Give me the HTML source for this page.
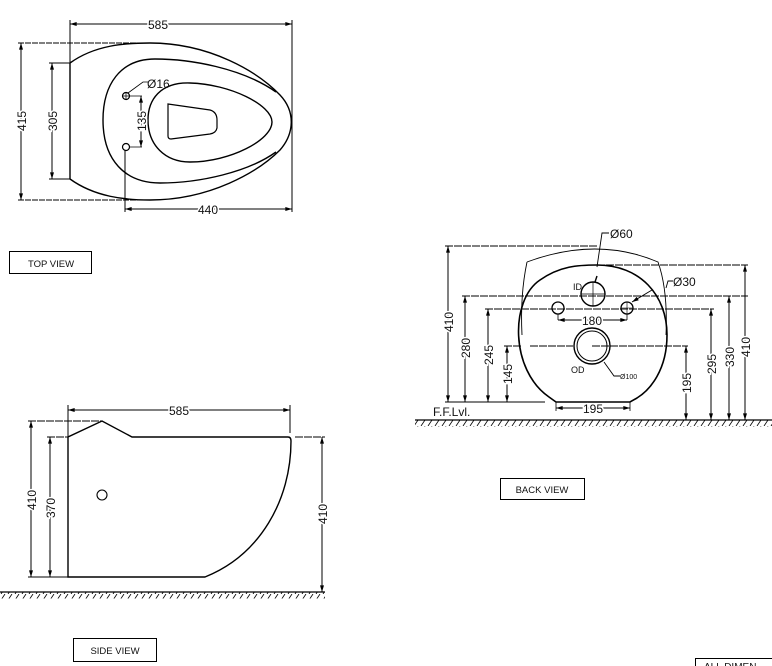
<!DOCTYPE html>
<html><head><meta charset="utf-8"><style>
html,body{margin:0;padding:0;background:#fff;}
svg{display:block;}
text{font-family:"Liberation Sans",Arial,sans-serif;fill:#111;}
</style></head><body>
<svg width="772" height="666" viewBox="0 0 772 666" xmlns="http://www.w3.org/2000/svg">
<defs>
<marker id="a" viewBox="0 0 10 6" refX="10" refY="3" markerWidth="7" markerHeight="4" orient="auto-start-reverse" markerUnits="userSpaceOnUse"><path d="M0,0L10,3L0,6z" fill="#000"/></marker>
<pattern id="h" width="7" height="6" patternUnits="userSpaceOnUse"><line x1="1" y1="6" x2="5" y2="0" stroke="#000" stroke-width="0.8"/></pattern>
</defs>
<g fill="none" stroke="#000" stroke-width="1">
<!-- TOP VIEW -->
<line x1="70" y1="20" x2="70" y2="63"/><line x1="292" y1="20" x2="292" y2="212"/>
<line x1="70" y1="24" x2="292" y2="24" marker-start="url(#a)" marker-end="url(#a)"/>
<line x1="18" y1="43" x2="150" y2="43" stroke-dasharray="6,1"/>
<line x1="18" y1="200" x2="150" y2="200" stroke-dasharray="6,1"/>
<line x1="21" y1="43" x2="21" y2="200" marker-start="url(#a)" marker-end="url(#a)"/>
<line x1="49" y1="63" x2="70" y2="63"/><line x1="49" y1="179" x2="70" y2="179"/>
<line x1="52" y1="63" x2="52" y2="179" marker-start="url(#a)" marker-end="url(#a)"/>
<line x1="125" y1="150" x2="125" y2="212"/>
<line x1="125" y1="209" x2="292" y2="209" marker-start="url(#a)" marker-end="url(#a)"/>
<path stroke-width="1.4" d="M70,63 C95,45 125,43 150,43 C210,43 258,72 280,95 C296,112 294,134 280,150 C258,172 210,200 150,200 C125,200 95,197 70,179 Z"/>
<path stroke-width="1.4" d="M276,92 C242,68 190,59 155,59 C120,59 103,85 103,120 C103,160 125,183 160,183 C200,183 248,172 276,152"/>
<path stroke-width="1.4" d="M272,122 C272,105 230,84 190,83 C160,82 148,100 148,120 C148,145 165,162 190,162 C230,162 272,140 272,122Z"/>
<path stroke-width="1.2" d="M168,104 L210,110 Q217,112 217,120 L217,128 Q216,133 210,134 L171,139 Q168,139 168,136 Z"/>
<circle cx="126" cy="96" r="3.5" stroke-width="1.2"/><path d="M122.5,96h7M126,92.5v7" stroke-width="0.7"/>
<circle cx="126" cy="147" r="3.5" stroke-width="1.2"/>
<path d="M129,96H142M129,147H142" stroke-width="0.8"/>
<line x1="141" y1="96" x2="141" y2="147" marker-start="url(#a)" marker-end="url(#a)"/>
<path d="M128,93 L143,82 H149" stroke-width="0.8"/>
<rect x="9.5" y="251.5" width="82" height="22"/>
<!-- BACK VIEW -->
<path stroke-width="0.9" d="M527,262 Q597,236 658,262 Q668,290 666,335"/>
<path stroke-width="0.9" d="M527,262 Q520,295 522,335"/>
<path stroke-width="1.6" d="M556,402 L549,397 C510,370 510,300 540,280 C560,266 578,265 597,265 C640,265 667,295 667,335 C667,370 650,390 637,398 L630,402 Z"/>
<line x1="415" y1="420" x2="772" y2="420" stroke-width="1.2"/>
<rect x="415" y="420.5" width="357" height="6" fill="url(#h)" stroke="none"/>
<path d="M445,246 H597" stroke-dasharray="8,1"/>
<line x1="448" y1="246" x2="448" y2="402" marker-start="url(#a)" marker-end="url(#a)"/>
<path d="M462,296 H748" stroke-dasharray="8,1"/>
<line x1="465" y1="296" x2="465" y2="402" marker-start="url(#a)" marker-end="url(#a)"/>
<path d="M485,309 H714" stroke-dasharray="8,1"/>
<line x1="488" y1="309" x2="488" y2="402" marker-start="url(#a)" marker-end="url(#a)"/>
<path d="M504,346 H522 M530,346 H573 M592,346 H688" stroke-dasharray="8,1"/>
<line x1="507" y1="346" x2="507" y2="402" marker-start="url(#a)" marker-end="url(#a)"/>
<line x1="445" y1="402" x2="545" y2="402"/>
<path d="M597,265 H748" stroke-dasharray="8,1"/>
<line x1="686" y1="346" x2="686" y2="420" marker-start="url(#a)" marker-end="url(#a)"/>
<line x1="711" y1="309" x2="711" y2="420" marker-start="url(#a)" marker-end="url(#a)"/>
<line x1="729" y1="296" x2="729" y2="420" marker-start="url(#a)" marker-end="url(#a)"/>
<line x1="745" y1="265" x2="745" y2="420" marker-start="url(#a)" marker-end="url(#a)"/>
<circle cx="593" cy="294" r="12" stroke-width="1.4"/><path d="M581,294h24M593,282v24" stroke-width="0.7"/>
<path d="M595,282 L597,276" stroke-width="1.4"/>
<circle cx="558" cy="308" r="6" stroke-width="1.3"/>
<circle cx="627" cy="308" r="6" stroke-width="1.3"/><path d="M621,308h12M627,302v12" stroke-width="0.6"/>
<path d="M558,314 V320 M627,314 V320" stroke-width="0.8"/>
<line x1="558" y1="320" x2="627" y2="320" marker-start="url(#a)" marker-end="url(#a)"/>
<circle cx="592" cy="346" r="18" stroke-width="1.4"/><circle cx="592" cy="346" r="15" stroke-width="1"/>
<path d="M597,267 L602,233 H609" stroke-width="0.9"/>
<path d="M632,302 L652,290" stroke-width="0.9" marker-start="url(#a)"/>
<path d="M666,288 L668,281 H673" stroke-width="0.9"/>
<path d="M604,362 L614,376 H620" stroke-width="0.9"/>
<path d="M556,402 V411 M630,402 V411" stroke-width="0.8"/>
<line x1="556" y1="408" x2="630" y2="408" marker-start="url(#a)" marker-end="url(#a)"/>
<rect x="500.5" y="478.5" width="84" height="21"/>
<!-- SIDE VIEW -->
<line x1="68" y1="405" x2="68" y2="437"/><line x1="290" y1="405" x2="290" y2="433"/>
<line x1="68" y1="410" x2="290" y2="410" marker-start="url(#a)" marker-end="url(#a)"/>
<path d="M28,421 H102" stroke-dasharray="8,1"/>
<path d="M47,437 H68 M132,437 H275 M295,437 H325" stroke-dasharray="8,1"/>
<line x1="31" y1="421" x2="31" y2="577" marker-start="url(#a)" marker-end="url(#a)"/>
<line x1="50" y1="437" x2="50" y2="577" marker-start="url(#a)" marker-end="url(#a)"/>
<line x1="28" y1="577" x2="68" y2="577"/>
<line x1="322" y1="437" x2="322" y2="592" marker-start="url(#a)" marker-end="url(#a)"/>
<path stroke-width="1.4" d="M68,577 V437 L102,421 L132,437 H288 Q291,437 291,441 C291,500 260,555 205,577 Z"/>
<circle cx="102" cy="495" r="5" stroke-width="1.1"/>
<line x1="0" y1="592" x2="325" y2="592" stroke-width="1.2"/>
<rect x="0" y="592.5" width="325" height="6" fill="url(#h)" stroke="none"/>
<rect x="73.5" y="638.5" width="83" height="23"/>
<rect x="695.5" y="658.5" width="90" height="20"/>
</g>
<g font-size="12">
<text x="158" y="29" text-anchor="middle" style="paint-order:stroke" stroke="#fff" stroke-width="3">585</text>
<text x="147" y="88">Ø16</text>
<text x="208" y="214" text-anchor="middle" style="paint-order:stroke" stroke="#fff" stroke-width="3">440</text>
<text transform="translate(26,121) rotate(-90)" text-anchor="middle" style="paint-order:stroke" stroke="#fff" stroke-width="3">415</text>
<text transform="translate(57,121) rotate(-90)" text-anchor="middle" style="paint-order:stroke" stroke="#fff" stroke-width="3">305</text>
<text transform="translate(146,121) rotate(-90)" text-anchor="middle" style="paint-order:stroke" stroke="#fff" stroke-width="3">135</text>
<text x="51" y="267" font-size="9.5" text-anchor="middle">TOP VIEW</text>
<text x="610" y="238">Ø60</text>
<text x="673" y="286">Ø30</text>
<text x="573" y="290" font-size="9">ID</text>
<text x="571" y="373" font-size="9">OD</text>
<text x="620" y="379" font-size="7">Ø100</text>
<text x="592" y="325" text-anchor="middle" style="paint-order:stroke" stroke="#fff" stroke-width="3">180</text>
<text x="593" y="413" text-anchor="middle" style="paint-order:stroke" stroke="#fff" stroke-width="3">195</text>
<text x="433" y="416">F.F.Lvl.</text>
<text transform="translate(453,322) rotate(-90)" text-anchor="middle" style="paint-order:stroke" stroke="#fff" stroke-width="3">410</text>
<text transform="translate(470,348) rotate(-90)" text-anchor="middle" style="paint-order:stroke" stroke="#fff" stroke-width="3">280</text>
<text transform="translate(493,355) rotate(-90)" text-anchor="middle" style="paint-order:stroke" stroke="#fff" stroke-width="3">245</text>
<text transform="translate(512,374) rotate(-90)" text-anchor="middle" style="paint-order:stroke" stroke="#fff" stroke-width="3">145</text>
<text transform="translate(691,383) rotate(-90)" text-anchor="middle" style="paint-order:stroke" stroke="#fff" stroke-width="3">195</text>
<text transform="translate(716,364) rotate(-90)" text-anchor="middle" style="paint-order:stroke" stroke="#fff" stroke-width="3">295</text>
<text transform="translate(734,357) rotate(-90)" text-anchor="middle" style="paint-order:stroke" stroke="#fff" stroke-width="3">330</text>
<text transform="translate(750,347) rotate(-90)" text-anchor="middle" style="paint-order:stroke" stroke="#fff" stroke-width="3">410</text>
<text x="542" y="493" font-size="9.5" text-anchor="middle">BACK VIEW</text>
<text x="179" y="415" text-anchor="middle" style="paint-order:stroke" stroke="#fff" stroke-width="3">585</text>
<text transform="translate(36,500) rotate(-90)" text-anchor="middle" style="paint-order:stroke" stroke="#fff" stroke-width="3">410</text>
<text transform="translate(55,508) rotate(-90)" text-anchor="middle" style="paint-order:stroke" stroke="#fff" stroke-width="3">370</text>
<text transform="translate(327,514) rotate(-90)" text-anchor="middle" style="paint-order:stroke" stroke="#fff" stroke-width="3">410</text>
<text x="115" y="654" font-size="9.5" text-anchor="middle">SIDE VIEW</text>
<text x="704" y="670" font-size="10">ALL DIMEN</text>
</g>
</svg>
</body></html>
